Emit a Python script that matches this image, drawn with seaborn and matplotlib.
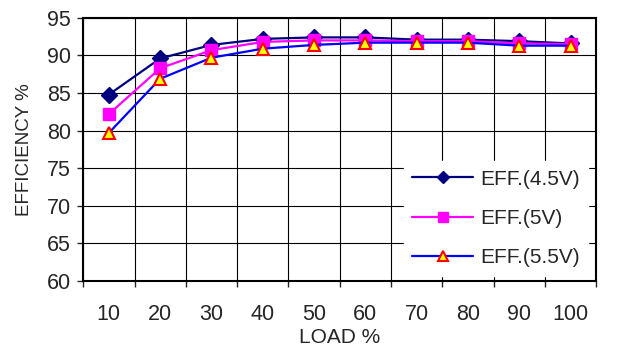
import numpy as np
import pandas as pd
import matplotlib
matplotlib.use("Agg")
import matplotlib.pyplot as plt
import seaborn as sns

load = [10, 20, 30, 40, 50, 60, 70, 80, 90, 100]
eff_45 = [84.8, 89.6, 91.4, 92.2, 92.4, 92.4, 92.1, 92.1, 91.9, 91.6]
eff_5 = [82.2, 88.3, 90.7, 91.8, 92.0, 92.0, 91.9, 91.9, 91.6, 91.5]
eff_55 = [79.7, 86.9, 89.7, 90.9, 91.4, 91.7, 91.7, 91.7, 91.3, 91.3]
series_names = ["EFF.(4.5V)", "EFF.(5V)", "EFF.(5.5V)"]

df = pd.DataFrame({"load": load * 3,
                   "eff": eff_45 + eff_5 + eff_55,
                   "series": [s for s in series_names for _ in load]})

sns.set_style("white")
plt.rcParams['font.family'] = ['Liberation Sans', 'DejaVu Sans']

fig = plt.figure(figsize=(6.21, 3.5), dpi=100)
ax = fig.add_axes([0.134, 0.197, 0.826, 0.752])

styles = {
    "EFF.(4.5V)": dict(color="#000080", marker="D", markersize=8, mfc="#000080", mec="#000080"),
    "EFF.(5V)": dict(color="#FF00FF", marker="s", markersize=9, mfc="#FF00FF", mec="#FF00FF"),
    "EFF.(5.5V)": dict(color="#0000FF", marker="^", markersize=9, mfc="#FFFF00", mec="#FF0000", mew=1.5),
}
for name in series_names:
    st = styles[name]
    sns.lineplot(data=df[df.series == name], x="load", y="eff", ax=ax, label=name,
                 color=st["color"], linewidth=1.6, marker=st["marker"],
                 markersize=st["markersize"], markerfacecolor=st["mfc"],
                 markeredgecolor=st["mec"], markeredgewidth=st.get("mew", 1))

ax.set_xlim(5, 105)
ax.set_ylim(60, 95)
ax.set_xticks(load)
ax.set_xticks(np.arange(5, 106, 10), minor=True)
ax.set_yticks(np.arange(60, 96, 5))
ax.tick_params(axis="x", which="major", length=0, labelsize=15.5, pad=16.5)
ax.tick_params(axis="x", which="minor", length=4.5, width=1, direction="out", bottom=True)
ax.tick_params(axis="y", which="major", length=4.5, width=1, direction="out", left=True, labelsize=15.5, pad=4.5)
ax.grid(True, which="minor", axis="x", color="black", linewidth=0.8)
ax.grid(True, which="major", axis="y", color="black", linewidth=0.8)
for sp in ax.spines.values():
    sp.set_visible(True)
    sp.set_color("black")
    sp.set_linewidth(1.5)

ax.set_xlabel("LOAD %", fontsize=15)
ax.xaxis.set_label_coords(0.5, -0.18)
ax.set_ylabel("EFFICIENCY %", fontsize=13.5)
ax.yaxis.set_label_coords(-0.097, 0.5)

leg = ax.legend(loc="lower right", frameon=True, fontsize=15, handlelength=2.9,
                handletextpad=0.34, labelspacing=0.98, borderpad=0.4, borderaxespad=0,
                markerscale=0.8, bbox_to_anchor=(0.984, 0.02))
leg.get_frame().set_edgecolor("white")
leg.get_frame().set_facecolor("white")
leg.get_frame().set_alpha(1)
leg.get_frame().set_boxstyle("square", pad=0)

fig.savefig("out.png", dpi=100)
